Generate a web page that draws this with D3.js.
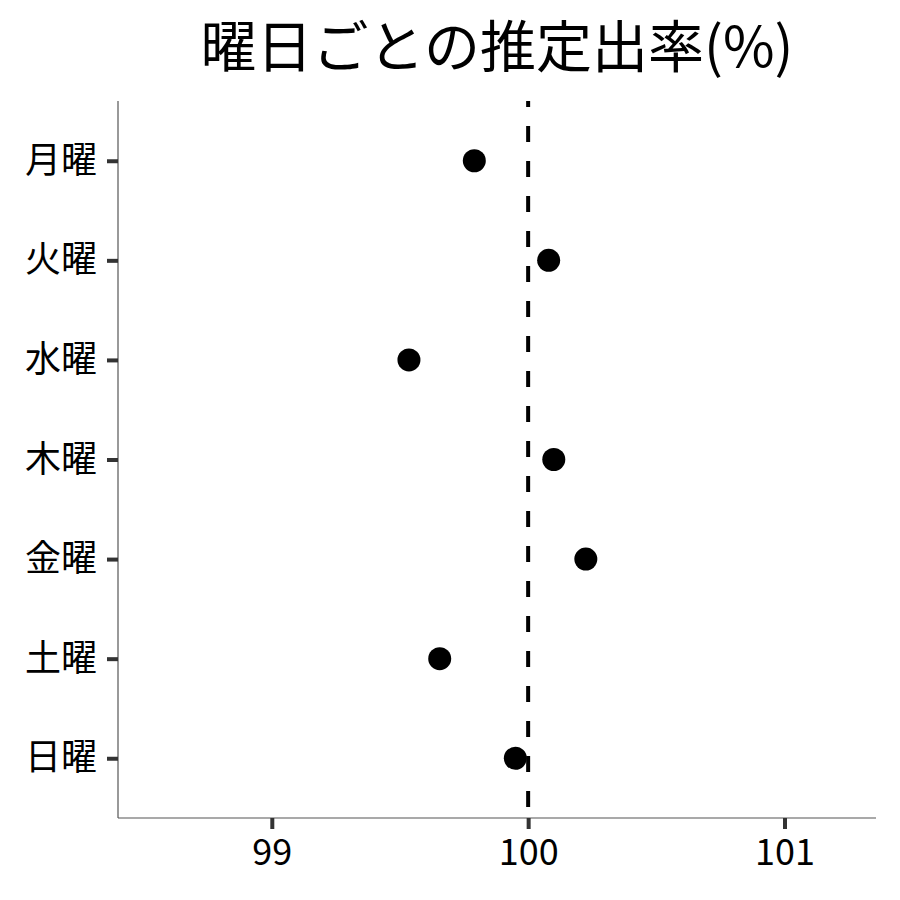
<!DOCTYPE html>
<html>
<head>
<meta charset="utf-8">
<script src="https://cdnjs.cloudflare.com/ajax/libs/d3/7.8.5/d3.min.js"></script>
<style>
  body { margin: 0; background: #fff; }
  text { font-family: "Noto Sans CJK JP", "Noto Sans", sans-serif; fill: #000; }
</style>
</head>
<body>
<div id="chart"></div>
<script>
const width = 900;
const height = 900;
const days = ["月曜", "火曜", "水曜", "木曜", "金曜", "土曜", "日曜"];
const rates = [99.79, 100.08, 99.535, 100.1, 100.225, 99.655, 99.95];
const xTicks = [99, 100, 101];
const refValue = 100;
const title = "曜日ごとの推定出率(%)";

const margin = { top: 101, right: 24, bottom: 82, left: 118 };

let svg = d3.select("#chart")
            .append("svg")
            .attr("width", width)
            .attr("height", height);

let x = d3.scaleLinear()
          .domain([98.4, 101.357])
          .range([margin.left, width - margin.right]);

// discrete axis with 0.6 expansion on each end
let y = d3.scalePoint()
          .domain(days)
          .range([margin.top, height - margin.bottom])
          .padding(0.6);

// axis lines
svg.append("line")
   .attr("x1", margin.left).attr("x2", margin.left)
   .attr("y1", margin.top).attr("y2", height - margin.bottom)
   .attr("stroke", "#555").attr("stroke-width", 1.2);
svg.append("line")
   .attr("x1", margin.left).attr("x2", width - margin.right)
   .attr("y1", height - margin.bottom).attr("y2", height - margin.bottom)
   .attr("stroke", "#555").attr("stroke-width", 1.2);

let xAxis = svg.append("g")
   .attr("transform", `translate(0,${height - margin.bottom})`)
   .call(d3.axisBottom(x).tickValues(xTicks).tickSize(11).tickPadding(10).tickFormat(d3.format("d")));
xAxis.select(".domain").remove();
xAxis.selectAll(".tick line").attr("stroke", "#333").attr("stroke-width", 4);
xAxis.selectAll(".tick text").attr("font-size", 36).attr("fill", "#000")
     .attr("font-family", "'Noto Sans CJK JP', sans-serif");

let yAxis = svg.append("g")
   .attr("transform", `translate(${margin.left},0)`)
   .call(d3.axisLeft(y).tickSize(11).tickPadding(10));
yAxis.select(".domain").remove();
yAxis.selectAll(".tick line").attr("stroke", "#333").attr("stroke-width", 4);
yAxis.selectAll(".tick text").attr("font-size", 36).attr("fill", "#000")
     .attr("font-family", "'Noto Sans CJK JP', sans-serif");

// reference line
svg.append("line")
   .attr("x1", x(refValue)).attr("x2", x(refValue))
   .attr("y1", margin.top).attr("y2", height - margin.bottom)
   .attr("stroke", "#000")
   .attr("stroke-width", 4)
   .attr("stroke-dasharray", "16,19")
   .attr("stroke-dashoffset", 10);

svg.selectAll("circle")
   .data(days)
   .enter()
   .append("circle")
   .attr("cx", (d, i) => x(rates[i]))
   .attr("cy", d => y(d))
   .attr("r", 11.5)
   .attr("fill", "#000");

svg.append("text")
   .attr("x", (margin.left + width - margin.right) / 2)
   .attr("y", 67)
   .attr("text-anchor", "middle")
   .attr("font-size", 56)
   .text(title);
</script>
</body>
</html>
